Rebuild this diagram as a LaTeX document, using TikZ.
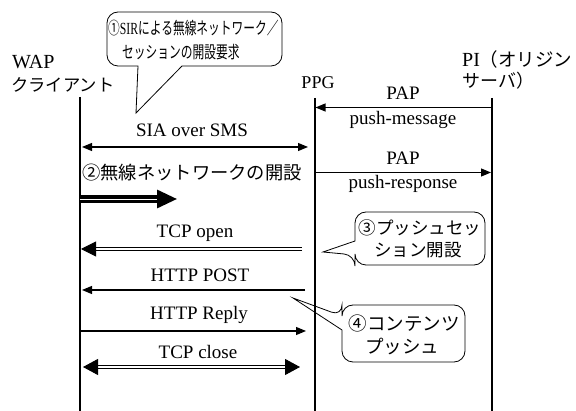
\documentclass[tikz,border=0pt]{standalone}
\usepackage{fontspec}
\setmainfont{Liberation Serif}
\newfontfamily\jp{Noto Sans CJK JP}
\newfontfamily\jpn{Noto Sans CJK JP}[FakeStretch=0.69]
\newfontfamily\serifn{Liberation Serif}[FakeStretch=0.69]
\usetikzlibrary{arrows.meta}

\tikzset{
  life/.style={line width=1.2pt},
  msg/.style={line width=1.1pt,-{Triangle[length=10pt,width=8pt]}},
  msgboth/.style={line width=1.1pt,{Triangle[length=10pt,width=8pt]}-{Triangle[length=10pt,width=8pt]}},
  dmsg/.style={double,line width=0.9pt,double distance=1.8pt,-{Triangle[length=15pt,width=15pt]}},
  dmsgboth/.style={double,line width=0.9pt,double distance=1.8pt,{Triangle[length=15pt,width=16pt]}-{Triangle[length=15pt,width=16pt]}},
  bigarrow/.style={double,line width=3.2pt,double distance=0.7pt,-{Triangle[length=20pt,width=18pt]}},
  lab/.style={inner sep=0pt,font=\fontsize{19}{21}\selectfont},
  head/.style={inner sep=0pt,anchor=west},
  balloon/.style={line width=0.8pt},
  btext/.style={inner sep=0pt,font=\jp\fontsize{17.5}{20}\selectfont},
}

\begin{document}
\begin{tikzpicture}[x=1pt,y=-1pt]
\useasboundingbox (0,0) rectangle (576,411);

% participants
\node[head,font=\fontsize{20}{22}\selectfont] (wapA) at (12,62) {WAP};
\node[head,font=\jp\fontsize{17.3}{19}\selectfont] (wapB) at (11,85) {クライアント};
\node[inner sep=0pt,font=\fontsize{18}{20}\selectfont] (ppg) at (318,83) {PPG};
\node[head,font=\fontsize{20}{22}\selectfont] (piA) at (462,59) {PI{\jp\fontsize{18.5}{19}\selectfont （オリジン}};
\node[head,font=\jp\fontsize{18}{19}\selectfont] (piB) at (462,81) {サーバ）};

% lifelines
\coordinate (wapTop) at (80,97);   \coordinate (wapBot) at (80,411);
\coordinate (ppgTop) at (315,98);  \coordinate (ppgBot) at (315,411);
\coordinate (piTop)  at (492,98);  \coordinate (piBot)  at (492,411);
\draw[life] (wapTop) -- (wapBot);
\draw[life] (ppgTop) -- (ppgBot);
\draw[life] (piTop) -- (piBot);

% PAP push-message
\coordinate (m1s) at (492,107.5); \coordinate (m1e) at (315.5,107.5);
\draw[msg] (m1s) -- (m1e);
\node[lab] (m1a) at (403,93) {PAP};
\node[lab] (m1b) at (403,120) {push-message};

% PAP push-response
\coordinate (m2s) at (315,172.5); \coordinate (m2e) at (491,172.5);
\draw[msg] (m2s) -- (m2e);
\node[lab] (m2a) at (403,158) {PAP};
\node[lab] (m2b) at (403,184) {push-response};

% SIA over SMS
\coordinate (m3s) at (82,147); \coordinate (m3e) at (308,147);
\draw[msgboth] (m3s) -- (m3e);
\node[lab] (m3a) at (192,130) {SIA over SMS};

% wireless network setup
\node[inner sep=0pt,anchor=west,font=\jp\fontsize{18.3}{21}\selectfont] (m4a) at (82,173) {②無線ネットワークの開設};
\coordinate (m4s) at (80,199); \coordinate (m4e) at (177,199);
\draw[bigarrow] (m4s) -- (m4e);

% TCP open
\coordinate (m5s) at (302,249); \coordinate (m5e) at (81,249);
\draw[dmsg] (m5s) -- (m5e);
\node[lab] (m5a) at (195,233) {TCP open};

% HTTP POST
\coordinate (m6s) at (305,290); \coordinate (m6e) at (82,290);
\draw[msg] (m6s) -- (m6e);
\node[lab] (m6a) at (200,275) {HTTP POST};

% HTTP Reply
\coordinate (m7s) at (80,331); \coordinate (m7e) at (306,331);
\draw[msg] (m7s) -- (m7e);
\node[lab] (m7a) at (199,315) {HTTP Reply};

% TCP close
\coordinate (m8s) at (83,367); \coordinate (m8e) at (300,367);
\draw[dmsgboth] (m8s) -- (m8e);
\node[lab] (m8a) at (198,352) {TCP close};

% balloon 1: session request by SIR
\draw[balloon] (182,66) [rounded corners=11pt] -- (282,66) -- (282,12) -- (107,12) -- (107,66) [sharp corners] -- (138,66) -- (136,113) -- cycle;
\node[inner sep=0pt,anchor=west,font=\fontsize{17}{19}\selectfont] (c1a) at (108,28) {{\jpn ①}{\serifn SIR}{\jpn による無線ネットワーク／}};
\node[inner sep=0pt,anchor=west,font=\jpn\fontsize{17}{19}\selectfont] (c1b) at (122,52) {セッションの開設要求};

% balloon 3: push session setup
\draw[balloon] (355,241) [rounded corners=11pt] -- (355,212) -- (485,212) -- (485,265) -- (355,265) -- (355,255) [sharp corners] -- (323,252) -- cycle;
\node[btext] (c3a) at (420,228) {③プッシュセッ};
\node[btext] (c3b) at (418,250) {ション開設};

% balloon 4: content push
\draw[balloon] (342,330) [rounded corners=11pt] -- (342,362) -- (465,362) -- (465,305) -- (342,305) -- (342,316) [sharp corners] -- (293,298) -- cycle;
\node[btext,font=\jp\fontsize{18.5}{20}\selectfont] (c4a) at (404,323) {④コンテンツ};
\node[btext,font=\jp\fontsize{18.5}{20}\selectfont] (c4b) at (402,347) {プッシュ};

\end{tikzpicture}
\end{document}
